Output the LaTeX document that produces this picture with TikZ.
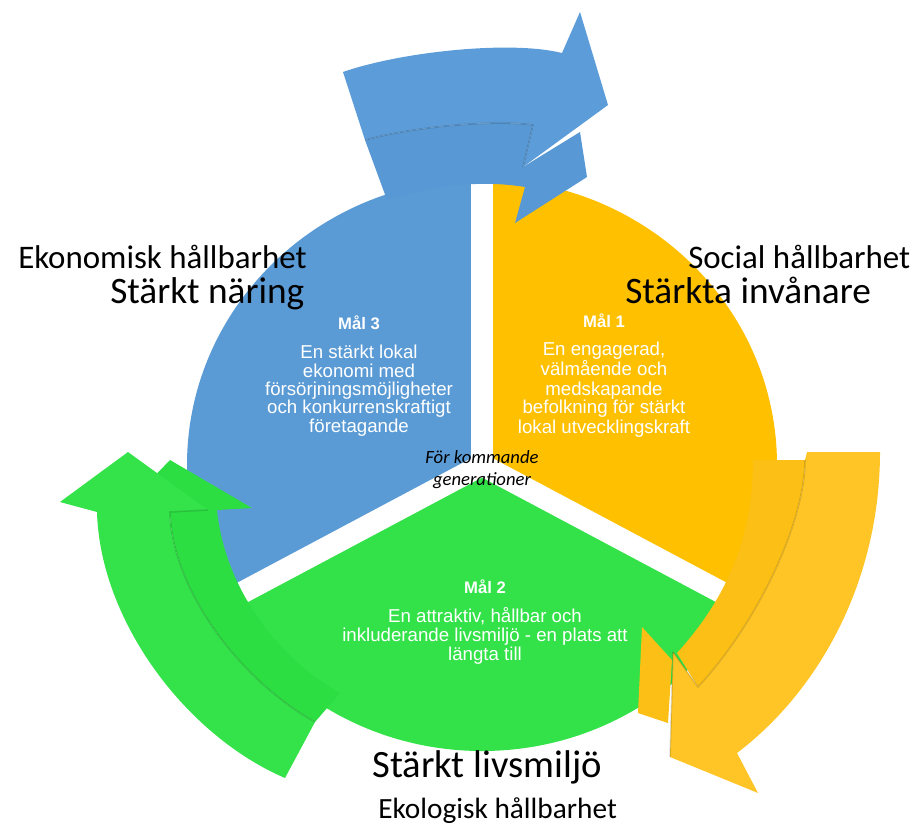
\documentclass[tikz,border=0pt]{standalone}
\usepackage{fontspec}
\newfontfamily\arialf{Liberation Sans}
\newfontfamily\calib{Carlito}
\definecolor{cblue}{HTML}{5B9BD5}
\definecolor{cyellow}{HTML}{FFC000}
\definecolor{cgreen}{HTML}{33E249}
\definecolor{ablue}{HTML}{5C9DD9}
\definecolor{ablues}{HTML}{5898D4}
\definecolor{ayel}{HTML}{FFC526}
\definecolor{ayels}{HTML}{FBBF16}
\definecolor{agreen}{HTML}{34E24A}
\definecolor{agreens}{HTML}{2DDE43}
\tikzset{
  x=0.75pt, y=-0.75pt,
  crease/.style={draw=black, draw opacity=0.13, line width=1.2pt},
  goaltitle/.style={text=white, font=\arialf\bfseries\fontsize{12.5}{13}\selectfont, inner sep=0pt, anchor=base},
  goaltext/.style={text=white, font=\arialf\fontsize{14}{14}\selectfont, inner sep=0pt, anchor=base},
  midtext/.style={text=black, font=\calib\itshape\fontsize{14}{14}\selectfont, inner sep=0pt, anchor=base},
  smalllabel/.style={text=black, font=\calib\fontsize{24.7}{25}\selectfont, inner sep=0pt, anchor=base west},
  biglabel/.style={text=black, font=\calib\fontsize{28}{28}\selectfont, inner sep=0pt, anchor=base west},
}
\begin{document}
\begin{tikzpicture}
\useasboundingbox (0,0) rectangle (921,829);
\coordinate (C) at (482,465);
% ---- circle sectors ----
\begin{scope}
\clip (C) ellipse [x radius=295, y radius=286];
\fill[cblue] (C) -- (482,-200) -- (-500,-200) -- (-500,987) -- cycle;
\fill[cyellow] (C) -- (482,-200) -- (1500,-200) -- (1500,1006) -- cycle;
\fill[cgreen] (C) -- (-500,987) -- (-500,1500) -- (1500,1500) -- (1500,1006) -- cycle;
\draw[white, line width=16.5pt] (C) -- (482,100);
\draw[white, line width=16.5pt] (C) -- (-48,747);
\draw[white, line width=16.5pt] (C) -- (1012,747);
\end{scope}
% ---- blue arrow (top) ----
\fill[ablues] (365,140) -- (387,200) .. controls (420,190) and (470,178) .. (525,187)
  -- (515,223) -- (587,177) -- (580,132) -- (523,167) -- (533,125)
  .. controls (500,120) and (420,125) .. (365,140) -- cycle;
\fill[ablue] (343,72) .. controls (400,52) and (510,40) .. (562,53) -- (580,12) -- (608,105)
  -- (523,167) -- (533,125) .. controls (500,120) and (420,125) .. (365,140) -- cycle;
\draw[crease] (523,167) -- (533,125) .. controls (500,120) and (420,125) .. (365,140);
% ---- yellow arrow (right) ----
\fill[ayels] (753,460) .. controls (753,540) and (725,600) .. (677,653) -- (698,687)
  .. controls (760,620) and (805,520) .. (805,460) -- cycle;
\fill[ayels] (642,627) -- (638,713) -- (668,723) -- (672,660) -- cycle;
\fill[ayel] (807,452) -- (880,452) .. controls (880,580) and (820,690) .. (737,753) -- (758,793)
  -- (670,757) -- (673,652) -- (698,687) .. controls (760,620) and (805,520) .. (805,460) -- cycle;
\draw[crease] (673,652) -- (698,687) .. controls (760,620) and (805,520) .. (805,460);
\draw[crease] (673,652) -- (670,757);
% ---- green arrow (left) ----
\fill[agreens] (170,460) -- (252,508) -- (217,510) .. controls (225,590) and (280,660) .. (340,693)
  -- (315,722) .. controls (240,680) and (172,590) .. (170,512) -- (120,512) -- cycle;
\fill[agreen] (60,502) -- (128,452) -- (208,510) -- (170,512) .. controls (172,590) and (240,680) .. (315,722)
  -- (285,778) .. controls (185,735) and (100,620) .. (97,512) -- cycle;
\draw[crease] (208,510) -- (170,512) .. controls (172,590) and (240,680) .. (315,722);
% ---- goal texts ----
\node[goaltitle] (m3t) at (359,329) {Mål 3};
\node[goaltext] (m3a) at (359,358) {En stärkt lokal};
\node[goaltext] (m3b) at (359,377) {ekonomi med};
\node[goaltext] (m3c) at (359,395) {försörjningsmöjligheter};
\node[goaltext] (m3d) at (359,413) {och konkurrenskraftigt};
\node[goaltext] (m3e) at (359,432) {företagande};
\node[goaltitle] (m1t) at (604,327) {Mål 1};
\node[goaltext] (m1a) at (604,355) {En engagerad,};
\node[goaltext] (m1b) at (604,375) {välmående och};
\node[goaltext] (m1c) at (604,395) {medskapande};
\node[goaltext] (m1d) at (604,413) {befolkning för stärkt};
\node[goaltext] (m1e) at (604,433) {lokal utvecklingskraft};
\node[goaltitle] (m2t) at (485,593) {Mål 2};
\node[goaltext] (m2a) at (485,622) {En attraktiv, hållbar och};
\node[goaltext] (m2b) at (485,641) {inkluderande livsmiljö - en plats att};
\node[goaltext] (m2c) at (485,660) {längta till};
\node[midtext] (g1) at (482,463) {För kommande};
\node[midtext] (g2) at (482,485) {generationer};
% ---- outer labels ----
\node[smalllabel] (ek) at (18,268) {Ekonomisk hållbarhet};
\node[biglabel] (sn) at (110,303) {Stärkt näring};
\node[smalllabel] (so) at (688,268) {Social hållbarhet};
\node[biglabel] (si) at (625,303) {Stärkta invånare};
\node[biglabel, font=\calib\fontsize{29}{29}\selectfont] (sl) at (372,777) {Stärkt livsmiljö};
\node[smalllabel, font=\calib\fontsize{22}{22}\selectfont] (eo) at (378,818) {Ekologisk hållbarhet};
\end{tikzpicture}
\end{document}
